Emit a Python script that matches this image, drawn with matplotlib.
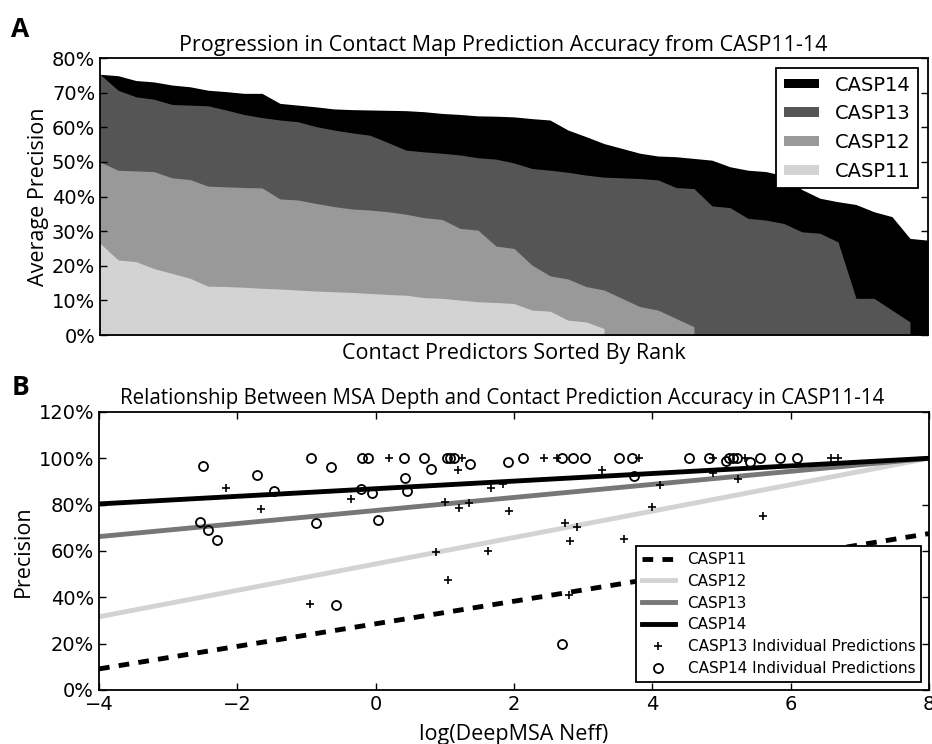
import numpy as np
import matplotlib
matplotlib.use("Agg")
import matplotlib.pyplot as plt
from matplotlib.ticker import FuncFormatter

# ---- Panel A: average precision of each predictor, sorted by rank ----
casp11 = [26.5, 21.7, 21.2, 19.2, 17.8, 16.4, 14.1, 14.0, 13.8, 13.5,
          13.3, 13.0, 12.7, 12.5, 12.3, 12.0, 11.7, 11.5, 10.8, 10.6,
          10.1, 9.6, 9.4, 9.1, 7.2, 6.9, 4.3, 3.8, 1.9]
casp12 = [50.0, 47.6, 47.4, 47.2, 45.4, 44.9, 43.0, 42.8, 42.6, 42.5,
          39.3, 39.0, 38.0, 37.1, 36.4, 36.1, 35.6, 34.9, 33.9, 33.4,
          30.8, 30.3, 25.7, 25.0, 20.2, 17.1, 16.2, 14.0, 13.0, 10.6,
          8.2, 7.2, 4.8, 2.4]
casp13 = [75.3, 70.7, 68.8, 68.1, 66.6, 66.4, 66.2, 65.0, 63.7, 62.8,
          62.1, 61.6, 60.2, 59.2, 58.4, 57.7, 55.6, 53.4, 52.9, 52.5,
          52.0, 51.2, 50.8, 49.7, 48.1, 47.6, 47.0, 46.2, 45.6, 45.4,
          45.2, 44.8, 42.6, 42.3, 37.3, 36.8, 33.7, 33.2, 32.2, 29.8,
          29.4, 26.9, 10.6, 10.6, 7.2, 3.8]
casp14 = [75.3, 74.9, 73.5, 73.1, 72.2, 71.7, 70.7, 70.3, 69.8, 69.8,
          66.9, 66.4, 65.9, 65.3, 65.1, 65.0, 64.9, 64.8, 64.5, 64.0,
          63.7, 63.3, 63.2, 63.0, 62.5, 62.1, 59.2, 57.3, 55.3, 53.9,
          52.5, 51.7, 51.5, 51.0, 50.5, 48.6, 47.6, 47.2, 46.0, 42.0,
          39.5, 38.5, 37.7, 35.6, 34.2, 27.9, 27.4]

area_series = [("CASP14", casp14, "black"),
               ("CASP13", casp13, "#555555"),
               ("CASP12", casp12, "#999999"),
               ("CASP11", casp11, "#d3d3d3")]

# ---- Panel B: regression lines (intercept at 0, slope per log unit) ----
fit_names = ["CASP11", "CASP12", "CASP13", "CASP14"]
fit_intercept = [28.57, 54.40, 77.47, 86.87]
fit_slope = [4.867, 5.70, 2.817, 1.642]

# CASP13 individual predictions (log Neff, precision %)
c13_x = [-2.17, -1.66, -0.95, -0.36, 0.19, 0.87, 1.00, 1.04, 1.19, 1.20,
         1.25, 1.35, 1.62, 1.67, 1.84, 1.93, 2.43, 2.62, 2.74, 2.80,
         2.81, 2.91, 3.27, 3.59, 3.81, 4.00, 4.11, 4.88, 4.88, 5.24,
         5.34, 5.60, 6.59, 6.69]
c13_y = [87.3, 78.1, 37.1, 82.3, 100.0, 59.7, 81.3, 47.5, 94.9, 78.4,
         100.0, 80.8, 60.0, 87.0, 88.9, 77.3, 100.0, 100.0, 72.2, 41.0,
         64.5, 70.5, 94.9, 65.0, 100.0, 79.1, 88.5, 93.5, 100.0, 90.9,
         100.0, 75.1, 100.0, 100.0]

# CASP14 individual predictions
c14_x = [-2.54, -2.49, -2.43, -2.30, -1.71, -1.47, -0.94, -0.86, -0.65, -0.57,
         -0.21, -0.20, -0.11, -0.05, 0.03, 0.41, 0.42, 0.45, 0.70, 0.80,
         1.03, 1.07, 1.13, 1.36, 1.92, 2.13, 2.69, 2.69, 2.86, 3.02,
         3.52, 3.70, 3.73, 4.53, 4.82, 5.07, 5.11, 5.17, 5.22, 5.41,
         5.56, 5.85, 6.09]
c14_y = [72.6, 96.7, 69.1, 64.7, 92.8, 85.9, 100.0, 72.2, 96.4, 36.7,
         86.8, 100.0, 100.0, 84.9, 73.4, 100.0, 91.4, 86.0, 100.0, 95.3,
         100.0, 100.0, 100.0, 97.5, 98.5, 100.0, 19.7, 100.0, 100.0, 100.0,
         100.0, 100.0, 92.4, 100.0, 100.0, 99.0, 100.0, 100.0, 100.0, 98.2,
         100.0, 100.0, 100.0]

title_font = "Open Sans"
pct = FuncFormatter(lambda v, pos: f"{v:.0f}%")

plt.rcParams["font.family"] = ["DejaVu Sans"]
plt.rcParams["axes.linewidth"] = 1.3

fig = plt.figure(figsize=(9.32, 7.44), dpi=100)

# ---------------- Panel A ----------------
axA = fig.add_axes([0.1073, 0.5497, 0.8884, 0.3723])
for name, vals, col in area_series:
    x = np.arange(len(vals))
    axA.fill_between(x, 0, vals, color=col, linewidth=0, label=name)

axA.set_xlim(0, len(casp14) - 1)
axA.set_ylim(0, 80)
axA.set_yticks(range(0, 81, 10))
axA.yaxis.set_major_formatter(pct)
axA.set_xticks([])
axA.tick_params(axis="y", direction="in", left=True, right=True,
                length=5, width=1, labelsize=14)
axA.set_title("Progression in Contact Map Prediction Accuracy from CASP11-14",
              fontsize=15.5, family=title_font, x=0.487, pad=5)
axA.set_ylabel("Average Precision", fontsize=15.5, family=title_font,
               labelpad=2)
axA.set_xlabel("Contact Predictors Sorted By Rank", fontsize=15.5,
               family=title_font, labelpad=6)
axA.legend(loc="upper right", fontsize=14, fancybox=False, edgecolor="black",
           framealpha=1, handlelength=1.8, handleheight=0.4,
           labelspacing=0.5).get_frame().set_linewidth(1.3)

# ---------------- Panel B ----------------
axB = fig.add_axes([0.1062, 0.0726, 0.8906, 0.3737])
xs = np.array([-4.0, 8.0])
line_styles = {"CASP11": dict(color="black", dashes=(2.2, 1.9)),
               "CASP12": dict(color="#d3d3d3"),
               "CASP13": dict(color="#777777"),
               "CASP14": dict(color="black")}
for name, b, m in zip(fit_names, fit_intercept, fit_slope):
    axB.plot(xs, b + m * xs, linewidth=3.5, label=name, **line_styles[name])

axB.plot(c13_x, c13_y, "+", color="black", markersize=6, mew=1.2,
         label="CASP13 Individual Predictions")
axB.plot(c14_x, c14_y, "o", mfc="none", mec="black", markersize=6.5, mew=1.3,
         label="CASP14 Individual Predictions")

axB.set_xlim(-4, 8)
axB.set_ylim(0, 120)
axB.set_xticks(range(-4, 9, 2))
axB.set_yticks(range(0, 121, 20))
axB.yaxis.set_major_formatter(pct)
axB.tick_params(direction="in", top=True, right=True, length=5, width=1,
                labelsize=14)
axB.set_title("Relationship Between MSA Depth and Contact Prediction Accuracy in CASP11-14",
              fontsize=14.8, family=title_font, x=0.486)
axB.set_ylabel("Precision", fontsize=15.5, family=title_font, labelpad=3)
axB.set_xlabel("log(DeepMSA Neff)", fontsize=15.5, family=title_font,
               labelpad=7)
axB.legend(loc="lower right", fontsize=11, fancybox=False, edgecolor="black",
           framealpha=1, numpoints=1, labelspacing=0.45,
           handlelength=2.2).get_frame().set_linewidth(1.3)

fig.text(0.012, 0.950, "A", fontsize=19, fontweight="bold", family=title_font)
fig.text(0.012, 0.469, "B", fontsize=19, fontweight="bold", family=title_font)

fig.savefig("out.png", dpi=100)
